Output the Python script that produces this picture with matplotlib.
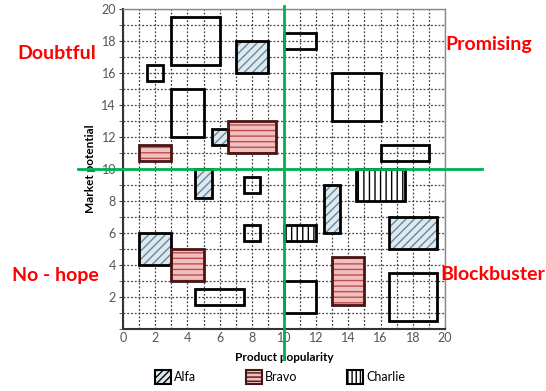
import matplotlib.pyplot as plt
from matplotlib.patches import Rectangle, Patch

plt.rcParams['font.family'] = ['Lato', 'DejaVu Sans']
plt.rcParams['hatch.linewidth'] = 1.0

# boxes: (x0, y0, width, height)
alfa = [(7, 16, 2, 2), (5.5, 11.5, 1, 1), (4.5, 8.2, 1, 1.8), (1, 4, 2, 2),
        (12.5, 6, 1, 3), (16.5, 5, 3, 2)]
bravo = [(6.5, 11, 3, 2), (1, 10.5, 2, 1), (3, 3, 2, 2), (13, 1.5, 2, 3)]
charlie = [(14.5, 8, 3, 2), (10, 5.5, 2, 1)]
empty = [(3, 16.5, 3, 3), (1.5, 15.5, 1, 1), (3, 12, 2, 3), (10, 17.5, 2, 1),
         (13, 13, 3, 3), (16, 10.5, 3, 1), (7.5, 8.5, 1, 1), (7.5, 5.5, 1, 1),
         (4.5, 1.5, 3, 1), (10, 1, 2, 2), (16.5, 0.5, 3, 3)]

split_x, split_y = 10, 10
quadrants = ['Doubtful', 'Promising', 'No - hope', 'Blockbuster']
quad_pos = [(-4.1, 17.2), (22.7, 17.75), (-4.2, 3.35), (23.0, 3.4)]

styles = {
    'Alfa': dict(face='#dde9f0', hatch='////', hcol='#6b8796', edge='black'),
    'Bravo': dict(face='#f0c0c0', hatch='---', hcol='#c04c4c', edge='#4a1515'),
    'Charlie': dict(face='white', hatch='|||', hcol='black', edge='black'),
}

fig = plt.figure(figsize=(5.46, 3.91), dpi=100)
ax = fig.add_axes([0.2253, 0.1586, 0.5897, 0.8184])
ax.set_xlim(0, 20)
ax.set_ylim(0, 20)

ax.set_xticks(range(0, 21, 2))
ax.set_yticks(range(2, 21, 2))
ax.set_xticks(range(0, 21), minor=True)
ax.set_yticks(range(0, 21), minor=True)
ax.grid(True, which='both', linestyle=(0, (1.5, 1.5)), color='#444444', linewidth=0.9)
ax.set_axisbelow(True)
ax.tick_params(axis='both', which='both', length=3, color='#444444',
               labelsize=9, labelcolor='#555555', pad=2)
ax.tick_params(axis='x', which='both', length=0)
for s in ['top', 'right']:
    ax.spines[s].set_color('#888888')
    ax.spines[s].set_linewidth(1)
for s in ['left', 'bottom']:
    ax.spines[s].set_color('#333333')
    ax.spines[s].set_linewidth(1.5)

ax.set_xlabel('Product popularity', fontsize=8.5, fontweight='bold', labelpad=6)
ax.set_ylabel('Market potential', fontsize=8.5, fontweight='bold', labelpad=4)


def draw(boxes, st):
    for x, y, w, h in boxes:
        ax.add_patch(Rectangle((x, y), w, h, facecolor=st['face'], hatch=st['hatch'],
                               edgecolor=st['hcol'], linewidth=0, zorder=3))
        ax.add_patch(Rectangle((x, y), w, h, fill=False, edgecolor=st['edge'],
                               linewidth=2, zorder=4))


for x, y, w, h in empty:
    ax.add_patch(Rectangle((x, y), w, h, fill=False, edgecolor='black',
                           linewidth=2, zorder=4))
draw(alfa, styles['Alfa'])
draw(bravo, styles['Bravo'])
draw(charlie, styles['Charlie'])

ax.plot([split_x, split_x], [-1.9, 20.2], color='#00b050', linewidth=2,
        clip_on=False, zorder=5)
ax.plot([-2.8, 22.3], [split_y, split_y], color='#00b050', linewidth=2,
        clip_on=False, zorder=5)

for name, (tx, ty) in zip(quadrants, quad_pos):
    ax.text(tx, ty, name, color='#ff0000', fontsize=14, fontweight='bold',
            ha='center', va='center', clip_on=False)

handles = []
for name, st in styles.items():
    handles.append(Patch(facecolor=st['face'], hatch=st['hatch'] + st['hatch'][0],
                         edgecolor=st['edge'], linewidth=1.5, label=name))
fig.legend(handles=handles, loc='lower center', ncol=3, frameon=False,
           bbox_to_anchor=(0.513, -0.01), fontsize=9, handlelength=1.3,
           handleheight=1.3, handletextpad=0.2, columnspacing=4)

fig.savefig('out.png', dpi=100)
